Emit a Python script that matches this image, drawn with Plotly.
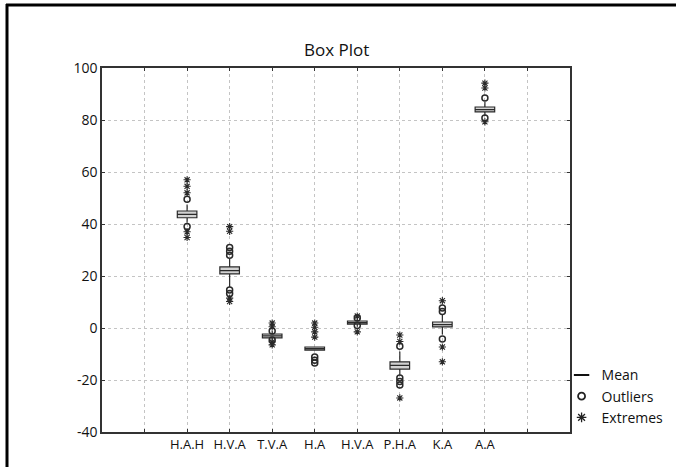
import plotly.graph_objects as go

categories = ["H.A.H", "H.V.A", "T.V.A", "H.A", "H.V.A", "P.H.A", "K.A", "A.A"]
positions = [2, 3, 4, 5, 6, 7, 8, 9]
q1 = [42.4, 20.8, -3.8, -8.5, 1.5, -15.8, 0.4, 83.1]
median = [43.7, 22.1, -3.0, -7.9, 2.1, -14.4, 1.3, 84.0]
q3 = [45.0, 23.5, -2.3, -7.3, 2.7, -13.0, 2.3, 85.0]
lower_fence = [40.5, 15.8, -4.5, -8.5, 0.5, -18.0, -2.5, 81.5]
upper_fence = [47.5, 26.5, -1.0, -7.3, 3.8, -9.0, 5.0, 87.0]
outliers = [
    [49.5, 39.0],
    [31.0, 29.5, 28.0, 14.6, 13.3],
    [-1.2, -4.6],
    [-11.2, -12.4, -13.5],
    [3.8, 1.0],
    [-7.0, -19.2, -20.6, -21.9],
    [7.7, 6.3, -4.2],
    [88.5, 80.8],
]
extremes = [
    [57.0, 54.5, 52.0, 37.0, 34.8],
    [39.0, 37.2, 11.5, 10.2],
    [1.9, 0.5, -5.4, -6.5],
    [1.9, 0.3, -1.5, -3.5],
    [4.6, -1.5],
    [-2.7, -5.2, -26.9],
    [10.5, -7.3, -13.0],
    [94.2, 92.3, 79.3],
]
y_ticks = [-40, -20, 0, 20, 40, 60, 80, 100]
y_ticktext = ["-40", "-20", "0", "20", "40", "60", "80", "100"]

fig = go.Figure()
for i, cat in enumerate(categories):
    fig.add_trace(go.Box(
        x=[positions[i]], q1=[q1[i]], median=[median[i]], q3=[q3[i]],
        lowerfence=[lower_fence[i]], upperfence=[upper_fence[i]],
        width=0.46, fillcolor="#d2d2d2",
        line=dict(color="#2a2a2a", width=1.2),
        whiskerwidth=0, showlegend=False, hoverinfo="skip",
    ))
    fig.add_trace(go.Scatter(
        x=[positions[i]] * len(outliers[i]), y=outliers[i], mode="markers",
        marker=dict(symbol="circle-open", size=6, color="#2a2a2a", line=dict(width=1.5)),
        showlegend=False, hoverinfo="skip",
    ))
    fig.add_trace(go.Scatter(
        x=[positions[i]] * len(extremes[i]), y=extremes[i], mode="markers",
        marker=dict(symbol="asterisk-open", size=6, color="#2a2a2a", line=dict(width=1.1, color="#2a2a2a")),
        showlegend=False, hoverinfo="skip",
    ))

# legend entries
fig.add_trace(go.Scatter(x=[None], y=[None], mode="markers", name="Mean",
                         marker=dict(symbol="line-ew-open", size=11, color="#111",
                                     line=dict(width=2, color="#111"))))
fig.add_trace(go.Scatter(x=[None], y=[None], mode="markers", name="Outliers",
                         marker=dict(symbol="circle-open", size=7, color="#222", line=dict(width=1.8))))
fig.add_trace(go.Scatter(x=[None], y=[None], mode="markers", name="Extremes",
                         marker=dict(symbol="asterisk-open", size=8, color="#222", line=dict(width=1.3, color="#222"))))

x_tickvals = list(range(1, 11))
x_ticktext = [""] + categories + [""]

# paper-coordinate bounds of the whole figure (plot area 102..570 x 68..432 px)
px_right = (676 - 102) / 468
py_bottom = (432 - 467) / 364

fig.update_layout(
    width=676, height=467,
    margin=dict(l=102, r=106, t=68, b=35, autoexpand=False),
    paper_bgcolor="white", plot_bgcolor="white",
    font=dict(family="Open Sans, Noto Sans, sans-serif", color="#111"),
    xaxis=dict(range=[0, 11], tickvals=x_tickvals, ticktext=x_ticktext,
               showgrid=True, gridcolor="#c4c4c4", griddash="dot", gridwidth=1,
               showline=True, linecolor="#333", linewidth=1.5, mirror="ticks",
               ticks="inside", ticklen=3, tickcolor="#333",
               tickfont=dict(size=13), zeroline=False, fixedrange=True),
    yaxis=dict(range=[-40, 100], tickvals=y_ticks, ticktext=y_ticktext,
               showgrid=True, gridcolor="#c4c4c4", griddash="dot", gridwidth=1,
               showline=True, linecolor="#333", linewidth=1.5, mirror="ticks",
               ticks="inside", ticklen=3, tickcolor="#333",
               tickfont=dict(size=14), zeroline=False, fixedrange=True),
    legend=dict(x=0.982, y=0.1995, xanchor="left", yanchor="top",
                font=dict(size=14), bgcolor="rgba(0,0,0,0)",
                itemwidth=30, tracegroupgap=0),
    showlegend=True,
    annotations=[dict(text="Box Plot", x=0.5, y=1.05, xref="paper", yref="paper",
                      xanchor="center", yanchor="middle", showarrow=False,
                      font=dict(size=17, color="#111"))],
    shapes=[
        dict(type="line", xref="paper", yref="paper", x0=(6 - 102) / 468, x1=px_right,
             y0=(432 - 5) / 364, y1=(432 - 5) / 364, line=dict(color="#000", width=3)),
        dict(type="line", xref="paper", yref="paper", x0=(7 - 102) / 468, x1=(7 - 102) / 468,
             y0=py_bottom, y1=(432 - 4) / 364, line=dict(color="#000", width=3)),
    ],
)

fig.write_html("out.html")
